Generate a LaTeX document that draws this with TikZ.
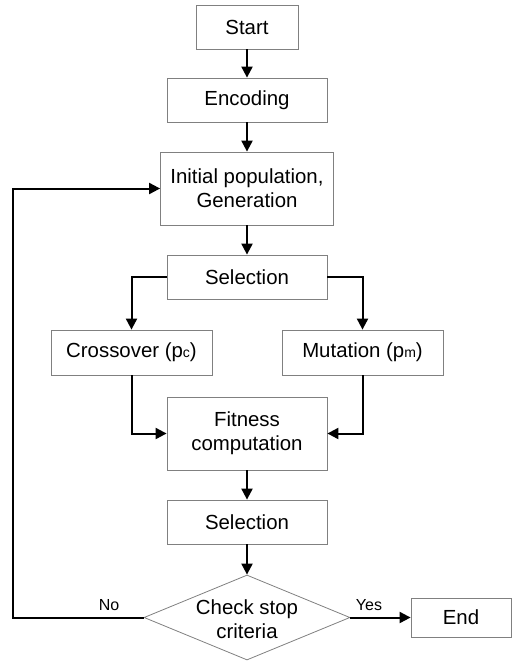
\documentclass[tikz,border=0pt]{standalone}
\usepackage{fontspec}
\setmainfont{Liberation Sans}
\usetikzlibrary{arrows.meta,shapes.geometric}
\begin{document}
\begin{tikzpicture}[x=1pt,y=-1pt,
 box/.style={draw=black!50, line width=0.8pt, fill=white, inner sep=0pt, font=\fontsize{20.4}{24}\selectfont, align=center},
 arr/.style={line width=2pt, -{Triangle[length=11pt,width=11pt]}},
 lbl/.style={font=\fontsize{16}{18}\selectfont, inner sep=0pt, anchor=base}]
\useasboundingbox (0,0) rectangle (512,664);
\node[box, minimum width=102, minimum height=44] (start) at (247,27) {Start};
\node[box, minimum width=160, minimum height=44] (enc) at (247,100) {Encoding};
\node[box, minimum width=173, minimum height=73] (init) at (247,188.5) {Initial population,\\Generation};
\node[box, minimum width=160, minimum height=44] (sel1) at (247,277) {Selection};
\node[box, minimum width=161, minimum height=45] (cross) at (131.5,352.5) {Crossover (p{\fontsize{14}{14}\selectfont c})};
\node[box, minimum width=161, minimum height=45] (mut) at (362.5,352.5) {Mutation (p{\fontsize{14}{14}\selectfont m})};
\node[box, minimum width=160, minimum height=73] (fit) at (247,433.5) {Fitness\\computation};
\node[box, minimum width=160, minimum height=44] (sel2) at (247,522) {Selection};
\node[draw=black!50, line width=0.8pt, fill=white, diamond, inner sep=0pt, minimum width=206, minimum height=85] (chk) at (247,617.5) {};
\node[box, draw=none, fill=none] (chktext) at (247,619) {Check stop\\criteria};
\node[box, minimum width=100, minimum height=39] (end) at (461,617.5) {End};
\coordinate (loop) at (13,617.5);
\node[lbl] (no) at (109,610) {No};
\node[lbl] (yes) at (369,610) {Yes};
\draw[arr] (start) -- (enc);
\draw[arr] (enc) -- (init);
\draw[arr] (init) -- (sel1);
\draw[arr] (sel1.west) -| (cross.north);
\draw[arr] (sel1.east) -| (mut.north);
\draw[arr] (cross.south) |- (fit.west);
\draw[arr] (mut.south) |- (fit.east);
\draw[arr] (fit) -- (sel2);
\draw[arr] (sel2) -- (chk.north);
\draw[arr] (chk.east) -- (end.west);
\draw[arr] (chk.west) -- (loop) |- (init.west);
\end{tikzpicture}
\end{document}
